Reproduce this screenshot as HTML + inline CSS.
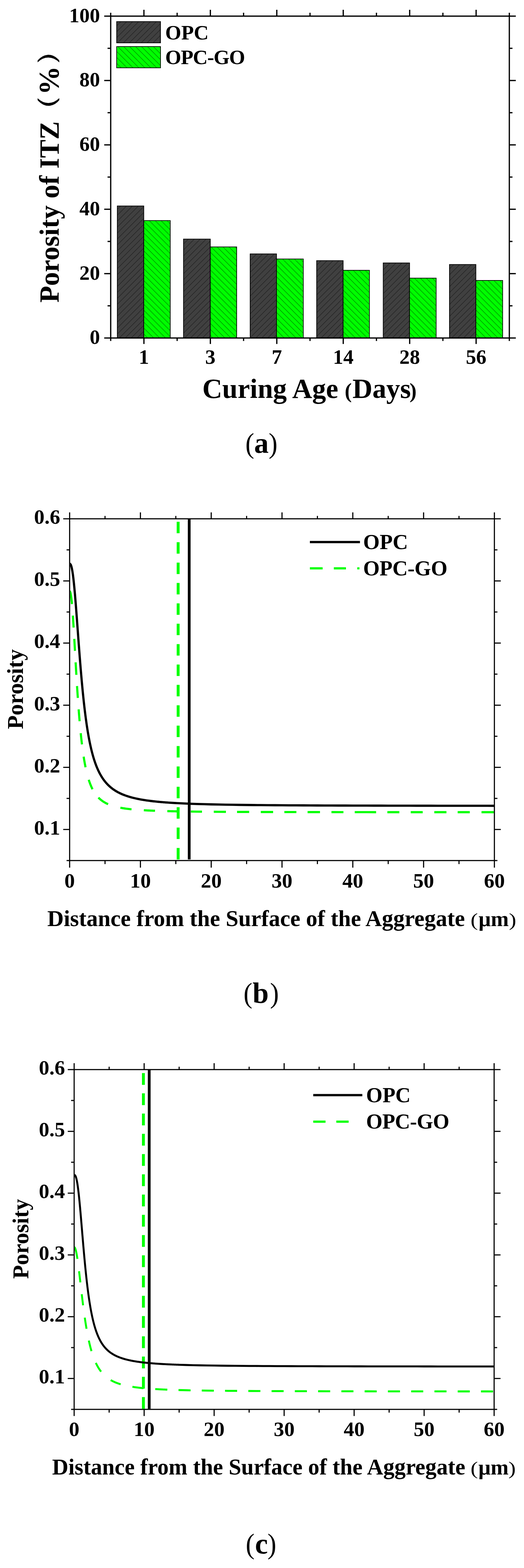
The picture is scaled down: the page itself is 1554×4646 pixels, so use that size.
<!DOCTYPE html>
<html><head><meta charset="utf-8"><title>Porosity of ITZ</title><style>html,body{margin:0;padding:0;background:#fff;}svg{display:block;}text{font-family:"Liberation Serif","Times New Roman",serif;}</style></head><body>
<svg width="1554" height="4646" viewBox="0 0 1554 4646">
<rect width="1554" height="4646" fill="#fff"/>
<defs>
<pattern id="hopc" patternUnits="userSpaceOnUse" width="17.6" height="17.6"><rect width="17.6" height="17.6" fill="#404040"/><path d="M-4.4,4.4 L4.4,-4.4 M0,17.6 L17.6,0 M13.2,22 L22,13.2" stroke="#000" stroke-width="0.95"/></pattern>
<pattern id="hgo" patternUnits="userSpaceOnUse" width="17.6" height="17.6"><rect width="17.6" height="17.6" fill="#00ff00"/><path d="M-4.4,13.2 L4.4,22 M0,0 L17.6,17.6 M13.2,-4.4 L22,4.4" stroke="#000" stroke-width="0.95"/></pattern>
</defs>
<rect x="347.9" y="610.3" width="78.5" height="391.2" fill="url(#hopc)" stroke="#000" stroke-width="2"/>
<rect x="426.4" y="653.6" width="78.5" height="347.9" fill="url(#hgo)" stroke="#000" stroke-width="2"/>
<rect x="544.2" y="708.4" width="79.5" height="293.1" fill="url(#hopc)" stroke="#000" stroke-width="2"/>
<rect x="623.7" y="731.6" width="78.2" height="269.9" fill="url(#hgo)" stroke="#000" stroke-width="2"/>
<rect x="741.9" y="752.3" width="78.1" height="249.2" fill="url(#hopc)" stroke="#000" stroke-width="2"/>
<rect x="820" y="767.4" width="79.5" height="234.1" fill="url(#hgo)" stroke="#000" stroke-width="2"/>
<rect x="939.1" y="772.3" width="78.5" height="229.2" fill="url(#hopc)" stroke="#000" stroke-width="2"/>
<rect x="1017.6" y="800.9" width="78" height="200.6" fill="url(#hgo)" stroke="#000" stroke-width="2"/>
<rect x="1136.5" y="779.1" width="78.1" height="222.4" fill="url(#hopc)" stroke="#000" stroke-width="2"/>
<rect x="1214.6" y="824.1" width="78.9" height="177.4" fill="url(#hgo)" stroke="#000" stroke-width="2"/>
<rect x="1333" y="783.7" width="78.3" height="217.8" fill="url(#hopc)" stroke="#000" stroke-width="2"/>
<rect x="1411.3" y="831" width="79.4" height="170.5" fill="url(#hgo)" stroke="#000" stroke-width="2"/>
<rect x="346" y="64" width="130" height="63" fill="url(#hopc)" stroke="#000" stroke-width="2"/>
<rect x="346" y="138" width="130" height="63" fill="url(#hgo)" stroke="#000" stroke-width="2"/>
<rect x="328.3" y="47.8" width="1182.2" height="953.7" fill="none" stroke="#000" stroke-width="3.7"/>
<line x1="309.1" y1="1001.5" x2="328.3" y2="1001.5" stroke="#000" stroke-width="3.7"/>
<line x1="1510.5" y1="1001.5" x2="1529.7" y2="1001.5" stroke="#000" stroke-width="3.7"/>
<line x1="319" y1="906.13" x2="328.3" y2="906.13" stroke="#000" stroke-width="3.7"/>
<line x1="1510.5" y1="906.13" x2="1519.8" y2="906.13" stroke="#000" stroke-width="3.7"/>
<line x1="309.1" y1="810.76" x2="328.3" y2="810.76" stroke="#000" stroke-width="3.7"/>
<line x1="1510.5" y1="810.76" x2="1529.7" y2="810.76" stroke="#000" stroke-width="3.7"/>
<line x1="319" y1="715.39" x2="328.3" y2="715.39" stroke="#000" stroke-width="3.7"/>
<line x1="1510.5" y1="715.39" x2="1519.8" y2="715.39" stroke="#000" stroke-width="3.7"/>
<line x1="309.1" y1="620.02" x2="328.3" y2="620.02" stroke="#000" stroke-width="3.7"/>
<line x1="1510.5" y1="620.02" x2="1529.7" y2="620.02" stroke="#000" stroke-width="3.7"/>
<line x1="319" y1="524.65" x2="328.3" y2="524.65" stroke="#000" stroke-width="3.7"/>
<line x1="1510.5" y1="524.65" x2="1519.8" y2="524.65" stroke="#000" stroke-width="3.7"/>
<line x1="309.1" y1="429.28" x2="328.3" y2="429.28" stroke="#000" stroke-width="3.7"/>
<line x1="1510.5" y1="429.28" x2="1529.7" y2="429.28" stroke="#000" stroke-width="3.7"/>
<line x1="319" y1="333.91" x2="328.3" y2="333.91" stroke="#000" stroke-width="3.7"/>
<line x1="1510.5" y1="333.91" x2="1519.8" y2="333.91" stroke="#000" stroke-width="3.7"/>
<line x1="309.1" y1="238.54" x2="328.3" y2="238.54" stroke="#000" stroke-width="3.7"/>
<line x1="1510.5" y1="238.54" x2="1529.7" y2="238.54" stroke="#000" stroke-width="3.7"/>
<line x1="319" y1="143.17" x2="328.3" y2="143.17" stroke="#000" stroke-width="3.7"/>
<line x1="1510.5" y1="143.17" x2="1519.8" y2="143.17" stroke="#000" stroke-width="3.7"/>
<line x1="309.1" y1="47.8" x2="328.3" y2="47.8" stroke="#000" stroke-width="3.7"/>
<line x1="1510.5" y1="47.8" x2="1529.7" y2="47.8" stroke="#000" stroke-width="3.7"/>
<line x1="328.3" y1="1001.5" x2="328.3" y2="1010.3" stroke="#000" stroke-width="3.7"/>
<line x1="328.3" y1="37.8" x2="328.3" y2="47.8" stroke="#000" stroke-width="3.7"/>
<line x1="426.82" y1="1001.5" x2="426.82" y2="1019.2" stroke="#000" stroke-width="3.7"/>
<line x1="426.82" y1="29" x2="426.82" y2="47.8" stroke="#000" stroke-width="3.7"/>
<line x1="525.33" y1="1001.5" x2="525.33" y2="1010.3" stroke="#000" stroke-width="3.7"/>
<line x1="525.33" y1="37.8" x2="525.33" y2="47.8" stroke="#000" stroke-width="3.7"/>
<line x1="623.85" y1="1001.5" x2="623.85" y2="1019.2" stroke="#000" stroke-width="3.7"/>
<line x1="623.85" y1="29" x2="623.85" y2="47.8" stroke="#000" stroke-width="3.7"/>
<line x1="722.37" y1="1001.5" x2="722.37" y2="1010.3" stroke="#000" stroke-width="3.7"/>
<line x1="722.37" y1="37.8" x2="722.37" y2="47.8" stroke="#000" stroke-width="3.7"/>
<line x1="820.88" y1="1001.5" x2="820.88" y2="1019.2" stroke="#000" stroke-width="3.7"/>
<line x1="820.88" y1="29" x2="820.88" y2="47.8" stroke="#000" stroke-width="3.7"/>
<line x1="919.4" y1="1001.5" x2="919.4" y2="1010.3" stroke="#000" stroke-width="3.7"/>
<line x1="919.4" y1="37.8" x2="919.4" y2="47.8" stroke="#000" stroke-width="3.7"/>
<line x1="1017.92" y1="1001.5" x2="1017.92" y2="1019.2" stroke="#000" stroke-width="3.7"/>
<line x1="1017.92" y1="29" x2="1017.92" y2="47.8" stroke="#000" stroke-width="3.7"/>
<line x1="1116.43" y1="1001.5" x2="1116.43" y2="1010.3" stroke="#000" stroke-width="3.7"/>
<line x1="1116.43" y1="37.8" x2="1116.43" y2="47.8" stroke="#000" stroke-width="3.7"/>
<line x1="1214.95" y1="1001.5" x2="1214.95" y2="1019.2" stroke="#000" stroke-width="3.7"/>
<line x1="1214.95" y1="29" x2="1214.95" y2="47.8" stroke="#000" stroke-width="3.7"/>
<line x1="1313.47" y1="1001.5" x2="1313.47" y2="1010.3" stroke="#000" stroke-width="3.7"/>
<line x1="1313.47" y1="37.8" x2="1313.47" y2="47.8" stroke="#000" stroke-width="3.7"/>
<line x1="1411.98" y1="1001.5" x2="1411.98" y2="1019.2" stroke="#000" stroke-width="3.7"/>
<line x1="1411.98" y1="29" x2="1411.98" y2="47.8" stroke="#000" stroke-width="3.7"/>
<line x1="1510.5" y1="1001.5" x2="1510.5" y2="1010.3" stroke="#000" stroke-width="3.7"/>
<line x1="1510.5" y1="37.8" x2="1510.5" y2="47.8" stroke="#000" stroke-width="3.7"/>
<text x="296.4" y="1019.3" font-size="61" font-weight="bold" text-anchor="end" font-family="'Liberation Serif','Times New Roman',serif">0</text>
<text x="296.4" y="828.56" font-size="61" font-weight="bold" text-anchor="end" font-family="'Liberation Serif','Times New Roman',serif">20</text>
<text x="296.4" y="637.82" font-size="61" font-weight="bold" text-anchor="end" font-family="'Liberation Serif','Times New Roman',serif">40</text>
<text x="296.4" y="447.08" font-size="61" font-weight="bold" text-anchor="end" font-family="'Liberation Serif','Times New Roman',serif">60</text>
<text x="296.4" y="256.34" font-size="61" font-weight="bold" text-anchor="end" font-family="'Liberation Serif','Times New Roman',serif">80</text>
<text x="296.4" y="65.6" font-size="61" font-weight="bold" text-anchor="end" font-family="'Liberation Serif','Times New Roman',serif">100</text>
<text x="426.82" y="1078" font-size="61" font-weight="bold" text-anchor="middle" font-family="'Liberation Serif','Times New Roman',serif">1</text>
<text x="623.85" y="1078" font-size="61" font-weight="bold" text-anchor="middle" font-family="'Liberation Serif','Times New Roman',serif">3</text>
<text x="820.88" y="1078" font-size="61" font-weight="bold" text-anchor="middle" font-family="'Liberation Serif','Times New Roman',serif">7</text>
<text x="1017.92" y="1078" font-size="61" font-weight="bold" text-anchor="middle" font-family="'Liberation Serif','Times New Roman',serif">14</text>
<text x="1214.95" y="1078" font-size="61" font-weight="bold" text-anchor="middle" font-family="'Liberation Serif','Times New Roman',serif">28</text>
<text x="1411.98" y="1078" font-size="61" font-weight="bold" text-anchor="middle" font-family="'Liberation Serif','Times New Roman',serif">56</text>
<text x="490.1" y="117" font-size="61" font-weight="bold" text-anchor="start" font-family="'Liberation Serif','Times New Roman',serif">OPC</text>
<text x="490.1" y="190" font-size="61" font-weight="bold" text-anchor="start" font-family="'Liberation Serif','Times New Roman',serif" letter-spacing="-1.4">OPC-GO</text>
<text x="599.9" y="1179" font-size="82" font-weight="bold" text-anchor="start" font-family="'Liberation Serif','Times New Roman',serif">Curing Age</text>
<text x="1022.22" y="1179" font-size="63" font-weight="bold" text-anchor="start" font-family="'Liberation Serif','Times New Roman',serif">(</text>
<text x="1045.27" y="1179" font-size="82" font-weight="bold" text-anchor="start" font-family="'Liberation Serif','Times New Roman',serif">Days</text>
<text x="1214.45" y="1179" font-size="63" font-weight="bold" text-anchor="start" font-family="'Liberation Serif','Times New Roman',serif">)</text>
<text transform="translate(173.5,896.7) rotate(-90)" font-size="81.5" font-weight="bold" font-family="'Liberation Serif',serif">Porosity of ITZ</text>
<text transform="translate(162.9,387) rotate(-90) scale(1.51,1)" font-size="75.3" font-weight="300" font-family="'Noto Serif CJK SC',serif">（</text>
<text transform="translate(174.3,280.9) rotate(-90)" font-size="85" font-weight="bold" font-family="'Liberation Serif',serif">%</text>
<text transform="translate(162.9,201.7) rotate(-90) scale(1.51,1)" font-size="75.3" font-weight="300" font-family="'Noto Serif CJK SC',serif">）</text>
<text transform="translate(727.66,1341.5) scale(0.92,1)" font-size="85.5" font-family="'Liberation Serif',serif">(</text>
<text x="753.81" y="1341.5" font-size="86" font-weight="bold" font-family="'Liberation Serif',serif">a</text>
<text transform="translate(796.64,1341.5) scale(0.92,1)" font-size="85.5" font-family="'Liberation Serif',serif">)</text>
<defs><clipPath id="clipb"><rect x="206.5" y="1537.2" width="1259.7" height="1012.6"/></clipPath></defs>
<g clip-path="url(#clipb)">
<line x1="528.3" y1="2546.5" x2="528.3" y2="1537.2" stroke="#00ff00" stroke-width="8.6" stroke-dasharray="34 26.4"/>
<line x1="561.1" y1="2546.5" x2="561.1" y2="1537.2" stroke="#000" stroke-width="8.2"/>
<path d="M206.5,1670.49 L206.92,1670.52 L207.34,1670.61 L207.76,1670.8 L208.18,1671.08 L208.6,1671.48 L209.02,1671.99 L209.44,1672.63 L209.86,1673.4 L210.28,1674.31 L210.7,1675.35 L211.12,1676.54 L211.54,1677.87 L211.96,1679.35 L212.38,1680.99 L212.8,1682.77 L213.22,1684.71 L213.64,1686.8 L214.06,1689.04 L214.48,1691.43 L214.9,1693.98 L215.32,1696.69 L215.74,1699.54 L216.16,1702.54 L216.58,1705.68 L217,1708.98 L217.42,1712.41 L217.84,1715.98 L218.26,1719.69 L218.68,1723.53 L219.1,1727.5 L219.52,1731.6 L219.94,1735.81 L220.36,1740.14 L220.78,1744.59 L221.2,1749.14 L221.62,1753.79 L222.04,1758.55 L222.46,1763.39 L222.88,1768.33 L223.3,1773.35 L223.72,1778.44 L224.14,1783.61 L224.56,1788.85 L224.98,1794.15 L225.4,1799.51 L225.82,1804.92 L226.24,1810.38 L226.66,1815.88 L227.08,1821.43 L227.5,1827 L227.91,1832.6 L228.33,1838.23 L228.75,1843.88 L229.17,1849.54 L229.59,1855.21 L230.01,1860.89 L230.43,1866.58 L230.85,1872.26 L231.27,1877.94 L231.69,1883.61 L232.11,1889.26 L232.53,1894.91 L232.95,1900.53 L233.37,1906.13 L233.79,1911.71 L234.21,1917.27 L234.63,1922.79 L235.05,1928.28 L235.47,1933.74 L235.89,1939.17 L236.31,1944.55 L236.73,1949.89 L237.15,1955.2 L237.57,1960.46 L237.99,1965.67 L238.41,1970.84 L238.83,1975.96 L239.25,1981.03 L239.67,1986.05 L240.09,1991.02 L240.51,1995.94 L240.93,2000.81 L241.35,2005.62 L241.77,2010.38 L242.19,2015.09 L242.61,2019.74 L243.03,2024.34 L243.45,2028.88 L243.87,2033.36 L244.29,2037.79 L244.71,2042.17 L245.13,2046.49 L245.55,2050.75 L245.97,2054.96 L246.39,2059.11 L246.81,2063.2 L247.23,2067.24 L247.65,2071.23 L248.07,2075.16 L248.49,2079.04 L248.91,2082.86 L249.33,2086.63 L249.75,2090.35 L250.17,2094.01 L250.59,2097.62 L251.01,2101.18 L251.43,2104.69 L251.85,2108.15 L252.27,2111.55 L252.69,2114.91 L253.11,2118.22 L253.53,2121.48 L253.95,2124.69 L254.37,2127.85 L254.79,2130.97 L255.21,2134.04 L255.63,2137.06 L256.05,2140.04 L256.47,2142.98 L256.89,2145.87 L257.31,2148.72 L257.73,2151.52 L258.15,2154.28 L258.57,2157.01 L258.99,2159.69 L259.41,2162.33 L259.83,2164.93 L260.25,2167.49 L260.67,2170.01 L261.09,2172.49 L261.51,2174.94 L261.93,2177.35 L262.35,2179.73 L262.77,2182.07 L263.19,2184.37 L263.61,2186.64 L264.03,2188.88 L264.45,2191.08 L264.87,2193.25 L265.29,2195.38 L265.71,2197.49 L266.13,2199.56 L266.55,2201.61 L266.97,2203.62 L267.39,2205.6 L267.81,2207.56 L268.23,2209.48 L268.65,2211.38 L269.07,2213.25 L269.49,2215.09 L269.9,2216.91 L270.32,2218.7 L270.74,2220.46 L271.16,2222.2 L271.58,2223.91 L272,2225.6 L272.42,2227.26 L272.84,2228.9 L273.26,2230.52 L273.68,2232.11 L274.1,2233.69 L274.52,2235.23 L274.94,2236.76 L275.36,2238.27 L275.78,2239.75 L276.2,2241.21 L276.62,2242.66 L277.04,2244.08 L277.46,2245.48 L277.88,2246.87 L278.3,2248.23 L278.72,2249.58 L279.14,2250.91 L279.56,2252.22 L279.98,2253.51 L280.4,2254.78 L280.82,2256.04 L281.24,2257.28 L281.66,2258.5 L282.08,2259.71 L282.5,2260.9 L282.92,2262.08 L283.34,2263.24 L283.76,2264.38 L284.18,2265.51 L284.6,2266.63 L285.02,2267.73 L285.44,2268.81 L285.86,2269.88 L286.28,2270.94 L286.7,2271.98 L287.12,2273.02 L287.54,2274.03 L287.96,2275.04 L288.38,2276.03 L288.8,2277.01 L289.22,2277.98 L289.64,2278.93 L290.06,2279.87 L290.48,2280.8 L290.9,2281.72 L291.32,2282.63 L291.74,2283.53 L292.16,2284.41 L292.58,2285.29 L293,2286.15 L293.42,2287.01 L293.84,2287.85 L294.26,2288.68 L294.68,2289.51 L295.1,2290.32 L295.52,2291.12 L295.94,2291.92 L296.36,2292.7 L296.78,2293.48 L297.2,2294.24 L297.62,2295 L298.04,2295.75 L298.46,2296.49 L298.88,2297.22 L299.3,2297.94 L299.72,2298.65 L300.14,2299.36 L300.56,2300.06 L300.98,2300.75 L301.4,2301.43 L301.82,2302.1 L302.24,2302.77 L302.66,2303.43 L303.08,2304.08 L303.5,2304.72 L303.92,2305.36 L304.34,2305.99 L304.76,2306.61 L305.18,2307.23 L305.6,2307.84 L306.02,2308.44 L306.44,2309.04 L306.86,2309.63 L307.28,2310.21 L307.7,2310.79 L308.12,2311.36 L308.54,2311.92 L308.96,2312.48 L309.38,2313.03 L309.8,2313.58 L310.22,2314.12 L310.64,2314.65 L311.06,2315.18 L311.48,2315.71 L311.89,2316.23 L312.31,2316.74 L312.73,2317.25 L313.15,2317.75 L313.57,2318.25 L313.99,2318.74 L314.41,2319.22 L314.83,2319.71 L315.25,2320.18 L315.67,2320.66 L316.09,2321.12 L316.51,2321.59 L316.93,2322.04 L317.35,2322.5 L317.77,2322.95 L318.19,2323.39 L318.61,2323.83 L319.03,2324.27 L319.45,2324.7 L319.87,2325.13 L320.29,2325.55 L320.71,2325.97 L321.13,2326.38 L321.55,2326.79 L321.97,2327.2 L322.39,2327.6 L322.81,2328 L323.23,2328.4 L323.65,2328.79 L324.07,2329.18 L324.49,2329.56 L324.91,2329.94 L325.33,2330.32 L325.75,2330.69 L326.17,2331.06 L326.59,2331.43 L327.01,2331.79 L327.43,2332.15 L327.85,2332.5 L328.27,2332.86 L328.69,2333.21 L329.11,2333.55 L329.53,2333.9 L329.95,2334.24 L330.37,2334.57 L330.79,2334.91 L331.21,2335.24 L331.63,2335.56 L332.05,2335.89 L332.47,2336.21 L334.57,2337.78 L336.67,2339.28 L338.77,2340.71 L340.87,2342.09 L342.97,2343.4 L345.07,2344.67 L347.17,2345.88 L349.27,2347.04 L351.37,2348.16 L353.46,2349.23 L355.56,2350.26 L357.66,2351.26 L359.76,2352.21 L361.86,2353.13 L363.96,2354.02 L366.06,2354.87 L368.16,2355.69 L370.26,2356.49 L372.36,2357.25 L374.46,2357.99 L376.56,2358.7 L378.66,2359.39 L380.76,2360.06 L382.86,2360.7 L384.96,2361.33 L387.06,2361.93 L389.16,2362.51 L391.26,2363.08 L393.36,2363.62 L395.45,2364.15 L397.55,2364.66 L399.65,2365.16 L401.75,2365.64 L403.85,2366.11 L405.95,2366.56 L408.05,2367 L410.15,2367.43 L412.25,2367.85 L414.35,2368.25 L416.45,2368.64 L418.55,2369.02 L420.65,2369.39 L422.75,2369.75 L424.85,2370.1 L426.95,2370.44 L429.05,2370.77 L431.15,2371.09 L433.25,2371.4 L435.35,2371.71 L437.44,2372 L439.54,2372.29 L441.64,2372.57 L443.74,2372.85 L445.84,2373.11 L447.94,2373.37 L450.04,2373.63 L452.14,2373.87 L454.24,2374.12 L456.34,2374.35 L458.44,2374.58 L460.54,2374.81 L462.64,2375.02 L464.74,2375.24 L466.84,2375.45 L468.94,2375.65 L471.04,2375.85 L473.14,2376.04 L475.24,2376.23 L477.34,2376.42 L479.43,2376.6 L481.53,2376.78 L483.63,2376.95 L485.73,2377.12 L487.83,2377.29 L489.93,2377.45 L492.03,2377.61 L494.13,2377.76 L496.23,2377.91 L498.33,2378.06 L500.43,2378.21 L502.53,2378.35 L504.63,2378.49 L506.73,2378.63 L508.83,2378.76 L510.93,2378.89 L513.03,2379.02 L515.13,2379.14 L517.23,2379.27 L519.33,2379.39 L521.42,2379.51 L542.42,2380.57 L563.41,2381.45 L584.41,2382.19 L605.4,2382.81 L626.4,2383.34 L647.39,2383.8 L668.39,2384.19 L689.38,2384.54 L710.38,2384.84 L731.38,2385.1 L752.37,2385.34 L773.37,2385.54 L794.36,2385.73 L815.36,2385.89 L836.35,2386.04 L857.35,2386.18 L878.34,2386.3 L899.34,2386.41 L920.33,2386.51 L941.33,2386.6 L962.32,2386.69 L983.32,2386.76 L1004.31,2386.83 L1025.31,2386.9 L1046.3,2386.96 L1067.3,2387.02 L1088.29,2387.07 L1109.29,2387.11 L1130.28,2387.16 L1151.28,2387.2 L1172.27,2387.24 L1193.27,2387.28 L1214.26,2387.31 L1235.26,2387.34 L1256.25,2387.37 L1277.25,2387.4 L1298.24,2387.43 L1319.24,2387.45 L1340.23,2387.48 L1361.23,2387.5 L1382.22,2387.52 L1403.22,2387.54 L1424.21,2387.56 L1445.21,2387.57 L1466.2,2387.59" fill="none" stroke="#000" stroke-width="6.6" stroke-linejoin="round"/>
<path d="M206.5,1752.22 L206.92,1752.32 L207.34,1752.64 L207.76,1753.23 L208.18,1754.11 L208.6,1755.27 L209.02,1756.73 L209.44,1758.49 L209.86,1760.57 L210.28,1762.95 L210.7,1765.64 L211.12,1768.63 L211.54,1771.92 L211.96,1775.51 L212.38,1779.39 L212.8,1783.55 L213.22,1787.98 L213.39,1789.9 M216.03,1824 L216.16,1825.79 L216.58,1832.02 L217,1838.41 L217.42,1844.95 L217.84,1851.64 L218.26,1858.45 L218.32,1859.5 M220.3,1893 L220.36,1893.94 L220.78,1901.23 L221.2,1908.57 L221.62,1915.93 L222.04,1923.31 L222.33,1928.5 M224.27,1962.5 L224.56,1967.39 L224.98,1974.62 L225.4,1981.81 L225.82,1988.94 L226.24,1996.01 L226.45,1999.6 M228.49,2032.7 L228.75,2036.86 L229.17,2043.38 L229.59,2049.8 L230.01,2056.13 L230.43,2062.37 L230.82,2068 M233.25,2101.7 L233.37,2103.28 L233.79,2108.73 L234.21,2114.08 L234.63,2119.33 L235.05,2124.48 L235.47,2129.53 L235.89,2134.49 L236.11,2137 M239.4,2172.3 L239.67,2174.94 L240.09,2179 L240.51,2182.97 L240.93,2186.86 L241.35,2190.66 L241.77,2194.39 L242.19,2198.05 L242.61,2201.62 L243.03,2205.13 L243.1,2205.7 M248.07,2241.9 L248.49,2244.54 L248.91,2247.15 L249.33,2249.71 L249.75,2252.21 L250.17,2254.66 L250.59,2257.06 L251.01,2259.42 L251.43,2261.72 L251.85,2263.98 L252.27,2266.19 L252.69,2268.35 L253.11,2270.48 L253.53,2272.56 L253.7,2273.4 M263.19,2310.6 L263.61,2311.88 L264.03,2313.15 L264.45,2314.41 L264.87,2315.64 L265.29,2316.84 L265.71,2318.03 L266.13,2319.2 L266.55,2320.34 L266.97,2321.46 L267.39,2322.57 L267.81,2323.65 L268.23,2324.71 L268.65,2325.76 L269.07,2326.79 L269.49,2327.79 L269.9,2328.79 L270.32,2329.76 L270.74,2330.72 L271.16,2331.66 L271.58,2332.58 L272,2333.49 L272.42,2334.38 L272.84,2335.26 L273.26,2336.13 L273.68,2336.98 L274.1,2337.81 L274.41,2338.4 M291.9,2363.32 L292.16,2363.59 L292.58,2364.01 L293,2364.43 L293.42,2364.84 L293.84,2365.25 L294.26,2365.65 L294.68,2366.04 L295.1,2366.43 L295.52,2366.82 L295.94,2367.2 L296.36,2367.57 L296.78,2367.94 L297.2,2368.31 L297.62,2368.66 L298.04,2369.02 L298.46,2369.37 L298.88,2369.71 L299.3,2370.06 L299.72,2370.39 L300.14,2370.72 L300.56,2371.05 L300.98,2371.37 L301.4,2371.69 L301.82,2372.01 L302.24,2372.32 L302.66,2372.63 L303.08,2372.93 L303.5,2373.23 L303.92,2373.52 L304.34,2373.82 L304.76,2374.1 L305.18,2374.39 L305.6,2374.67 L306.02,2374.95 L306.44,2375.22 L306.86,2375.49 L307.28,2375.76 L307.7,2376.02 L308.12,2376.28 L308.54,2376.54 L308.96,2376.79 L309.38,2377.05 L309.8,2377.29 L310.22,2377.54 L310.64,2377.78 L311.06,2378.02 L311.48,2378.26 L311.89,2378.49 L312.31,2378.72 L312.73,2378.95 L313.15,2379.18 L313.57,2379.4 L313.99,2379.62 L314.41,2379.84 L314.83,2380.05 L315.25,2380.27 L315.67,2380.48 L316.09,2380.69 L316.51,2380.89 L316.93,2381.1 L317.35,2381.3 L317.77,2381.5 L318.19,2381.69 L318.61,2381.89 L319.03,2382.08 L319.45,2382.27 L319.87,2382.46 L320.29,2382.64 L320.6,2382.78 M357,2393.33 L357.66,2393.46 L359.76,2393.84 L361.86,2394.21 L363.96,2394.56 L366.06,2394.9 L368.16,2395.22 L370.26,2395.53 L372.36,2395.83 L374.46,2396.12 L376.56,2396.39 L378.66,2396.66 L380.76,2396.91 L382.86,2397.16 L384.96,2397.4 L387.06,2397.63 L389.16,2397.85 L390,2397.93 M426.6,2400.76 L426.95,2400.78 L429.05,2400.9 L431.15,2401.02 L433.25,2401.13 L435.35,2401.24 L437.44,2401.34 L439.54,2401.45 L441.64,2401.55 L443.74,2401.65 L445.84,2401.74 L447.94,2401.83 L450.04,2401.92 L452.14,2402.01 L454.24,2402.09 L456.34,2402.18 L458.44,2402.26 L459.7,2402.31 M496.2,2403.41 L496.23,2403.41 L498.33,2403.46 L500.43,2403.51 L502.53,2403.56 L504.63,2403.61 L506.73,2403.66 L508.83,2403.7 L510.93,2403.75 L513.03,2403.79 L515.13,2403.83 L517.23,2403.87 L519.33,2403.91 L521.42,2403.95 L527.6,2404.06 M566,2404.64 L584.41,2404.85 L599,2404.99 M634,2405.28 L647.39,2405.38 L668.39,2405.5 L670,2405.51 M703,2405.68 L710.38,2405.71 L731.38,2405.79 L739,2405.82 M773.4,2405.93 L794.36,2405.99 L810,2406.03 M843.3,2406.11 L857.35,2406.13 L878.34,2406.17 L879,2406.17 M912.2,2406.23 L920.33,2406.24 L941.33,2406.27 L949,2406.28 M983,2406.32 L983.32,2406.32 L1004.31,2406.34 L1018.5,2406.35 M1052,2406.38 L1067.3,2406.4 L1088.29,2406.41 L1109.29,2406.43 L1115.4,2406.43 M1148.8,2406.45 L1151.28,2406.45 L1172.27,2406.47 L1184.3,2406.47 M1218.1,2406.49 L1235.26,2406.5 L1253.6,2406.5 M1288,2406.52 L1298.24,2406.52 L1319.24,2406.53 L1324,2406.53 M1357.3,2406.54 L1361.23,2406.54 L1382.22,2406.55 L1393.2,2406.55 M1428,2406.56 L1445.21,2406.57 L1464.5,2406.57" fill="none" stroke="#00ff00" stroke-width="6.4" stroke-linejoin="round"/>
</g>
<rect x="206.5" y="1537.2" width="1259.7" height="1012.6" fill="none" stroke="#000" stroke-width="3.3"/>
<line x1="206.5" y1="2549.8" x2="206.5" y2="2570.8" stroke="#000" stroke-width="3.3"/>
<line x1="206.5" y1="1518.2" x2="206.5" y2="1537.2" stroke="#000" stroke-width="3.3"/>
<line x1="311.48" y1="2549.8" x2="311.48" y2="2560.3" stroke="#000" stroke-width="3.3"/>
<line x1="311.48" y1="1528.7" x2="311.48" y2="1537.2" stroke="#000" stroke-width="3.3"/>
<line x1="416.45" y1="2549.8" x2="416.45" y2="2570.8" stroke="#000" stroke-width="3.3"/>
<line x1="416.45" y1="1518.2" x2="416.45" y2="1537.2" stroke="#000" stroke-width="3.3"/>
<line x1="521.42" y1="2549.8" x2="521.42" y2="2560.3" stroke="#000" stroke-width="3.3"/>
<line x1="521.42" y1="1528.7" x2="521.42" y2="1537.2" stroke="#000" stroke-width="3.3"/>
<line x1="626.4" y1="2549.8" x2="626.4" y2="2570.8" stroke="#000" stroke-width="3.3"/>
<line x1="626.4" y1="1518.2" x2="626.4" y2="1537.2" stroke="#000" stroke-width="3.3"/>
<line x1="731.38" y1="2549.8" x2="731.38" y2="2560.3" stroke="#000" stroke-width="3.3"/>
<line x1="731.38" y1="1528.7" x2="731.38" y2="1537.2" stroke="#000" stroke-width="3.3"/>
<line x1="836.35" y1="2549.8" x2="836.35" y2="2570.8" stroke="#000" stroke-width="3.3"/>
<line x1="836.35" y1="1518.2" x2="836.35" y2="1537.2" stroke="#000" stroke-width="3.3"/>
<line x1="941.33" y1="2549.8" x2="941.33" y2="2560.3" stroke="#000" stroke-width="3.3"/>
<line x1="941.33" y1="1528.7" x2="941.33" y2="1537.2" stroke="#000" stroke-width="3.3"/>
<line x1="1046.3" y1="2549.8" x2="1046.3" y2="2570.8" stroke="#000" stroke-width="3.3"/>
<line x1="1046.3" y1="1518.2" x2="1046.3" y2="1537.2" stroke="#000" stroke-width="3.3"/>
<line x1="1151.28" y1="2549.8" x2="1151.28" y2="2560.3" stroke="#000" stroke-width="3.3"/>
<line x1="1151.28" y1="1528.7" x2="1151.28" y2="1537.2" stroke="#000" stroke-width="3.3"/>
<line x1="1256.25" y1="2549.8" x2="1256.25" y2="2570.8" stroke="#000" stroke-width="3.3"/>
<line x1="1256.25" y1="1518.2" x2="1256.25" y2="1537.2" stroke="#000" stroke-width="3.3"/>
<line x1="1361.23" y1="2549.8" x2="1361.23" y2="2560.3" stroke="#000" stroke-width="3.3"/>
<line x1="1361.23" y1="1528.7" x2="1361.23" y2="1537.2" stroke="#000" stroke-width="3.3"/>
<line x1="1466.2" y1="2549.8" x2="1466.2" y2="2570.8" stroke="#000" stroke-width="3.3"/>
<line x1="1466.2" y1="1518.2" x2="1466.2" y2="1537.2" stroke="#000" stroke-width="3.3"/>
<line x1="197.5" y1="2549.8" x2="206.5" y2="2549.8" stroke="#000" stroke-width="3.3"/>
<line x1="1466.2" y1="2549.8" x2="1475.2" y2="2549.8" stroke="#000" stroke-width="3.3"/>
<line x1="187.5" y1="2457.75" x2="206.5" y2="2457.75" stroke="#000" stroke-width="3.3"/>
<line x1="1466.2" y1="2457.75" x2="1485.2" y2="2457.75" stroke="#000" stroke-width="3.3"/>
<line x1="197.5" y1="2365.69" x2="206.5" y2="2365.69" stroke="#000" stroke-width="3.3"/>
<line x1="1466.2" y1="2365.69" x2="1475.2" y2="2365.69" stroke="#000" stroke-width="3.3"/>
<line x1="187.5" y1="2273.64" x2="206.5" y2="2273.64" stroke="#000" stroke-width="3.3"/>
<line x1="1466.2" y1="2273.64" x2="1485.2" y2="2273.64" stroke="#000" stroke-width="3.3"/>
<line x1="197.5" y1="2181.58" x2="206.5" y2="2181.58" stroke="#000" stroke-width="3.3"/>
<line x1="1466.2" y1="2181.58" x2="1475.2" y2="2181.58" stroke="#000" stroke-width="3.3"/>
<line x1="187.5" y1="2089.53" x2="206.5" y2="2089.53" stroke="#000" stroke-width="3.3"/>
<line x1="1466.2" y1="2089.53" x2="1485.2" y2="2089.53" stroke="#000" stroke-width="3.3"/>
<line x1="197.5" y1="1997.47" x2="206.5" y2="1997.47" stroke="#000" stroke-width="3.3"/>
<line x1="1466.2" y1="1997.47" x2="1475.2" y2="1997.47" stroke="#000" stroke-width="3.3"/>
<line x1="187.5" y1="1905.42" x2="206.5" y2="1905.42" stroke="#000" stroke-width="3.3"/>
<line x1="1466.2" y1="1905.42" x2="1485.2" y2="1905.42" stroke="#000" stroke-width="3.3"/>
<line x1="197.5" y1="1813.36" x2="206.5" y2="1813.36" stroke="#000" stroke-width="3.3"/>
<line x1="1466.2" y1="1813.36" x2="1475.2" y2="1813.36" stroke="#000" stroke-width="3.3"/>
<line x1="187.5" y1="1721.31" x2="206.5" y2="1721.31" stroke="#000" stroke-width="3.3"/>
<line x1="1466.2" y1="1721.31" x2="1485.2" y2="1721.31" stroke="#000" stroke-width="3.3"/>
<line x1="197.5" y1="1629.25" x2="206.5" y2="1629.25" stroke="#000" stroke-width="3.3"/>
<line x1="1466.2" y1="1629.25" x2="1475.2" y2="1629.25" stroke="#000" stroke-width="3.3"/>
<line x1="187.5" y1="1537.2" x2="206.5" y2="1537.2" stroke="#000" stroke-width="3.3"/>
<line x1="1466.2" y1="1537.2" x2="1485.2" y2="1537.2" stroke="#000" stroke-width="3.3"/>
<text x="178.5" y="2472.75" font-size="62" font-weight="bold" text-anchor="end" font-family="'Liberation Serif','Times New Roman',serif">0.1</text>
<text x="178.5" y="2288.64" font-size="62" font-weight="bold" text-anchor="end" font-family="'Liberation Serif','Times New Roman',serif">0.2</text>
<text x="178.5" y="2104.53" font-size="62" font-weight="bold" text-anchor="end" font-family="'Liberation Serif','Times New Roman',serif">0.3</text>
<text x="178.5" y="1920.42" font-size="62" font-weight="bold" text-anchor="end" font-family="'Liberation Serif','Times New Roman',serif">0.4</text>
<text x="178.5" y="1736.31" font-size="62" font-weight="bold" text-anchor="end" font-family="'Liberation Serif','Times New Roman',serif">0.5</text>
<text x="178.5" y="1552.2" font-size="62" font-weight="bold" text-anchor="end" font-family="'Liberation Serif','Times New Roman',serif">0.6</text>
<text x="206.5" y="2630.2" font-size="62" font-weight="bold" text-anchor="middle" font-family="'Liberation Serif','Times New Roman',serif">0</text>
<text x="416.45" y="2630.2" font-size="62" font-weight="bold" text-anchor="middle" font-family="'Liberation Serif','Times New Roman',serif">10</text>
<text x="626.4" y="2630.2" font-size="62" font-weight="bold" text-anchor="middle" font-family="'Liberation Serif','Times New Roman',serif">20</text>
<text x="836.35" y="2630.2" font-size="62" font-weight="bold" text-anchor="middle" font-family="'Liberation Serif','Times New Roman',serif">30</text>
<text x="1046.3" y="2630.2" font-size="62" font-weight="bold" text-anchor="middle" font-family="'Liberation Serif','Times New Roman',serif">40</text>
<text x="1256.25" y="2630.2" font-size="62" font-weight="bold" text-anchor="middle" font-family="'Liberation Serif','Times New Roman',serif">50</text>
<text x="1466.2" y="2630.2" font-size="62" font-weight="bold" text-anchor="middle" font-family="'Liberation Serif','Times New Roman',serif">60</text>
<line x1="919" y1="1606.2" x2="1067.5" y2="1606.2" stroke="#000" stroke-width="6.8"/>
<line x1="919" y1="1684" x2="956.8" y2="1684" stroke="#00ff00" stroke-width="6.4"/>
<line x1="990" y1="1684" x2="1026" y2="1684" stroke="#00ff00" stroke-width="6.4"/>
<line x1="1059.5" y1="1684" x2="1066" y2="1684" stroke="#00ff00" stroke-width="6.4"/>
<text x="1077.01" y="1627.3" font-size="63" font-weight="bold" text-anchor="start" font-family="'Liberation Serif','Times New Roman',serif">OPC</text>
<text x="1077.01" y="1704.7" font-size="63" font-weight="bold" text-anchor="start" font-family="'Liberation Serif','Times New Roman',serif" letter-spacing="-0.4">OPC-GO</text>
<text x="140.22" y="2744.4" font-size="67.5" font-weight="bold" text-anchor="start" font-family="'Liberation Serif','Times New Roman',serif">Distance from the Surface of the Aggregate</text>
<text transform="translate(1395.42,2744.4) scale(1.2,1)" font-size="54.5" font-family="'Liberation Serif',serif">(</text>
<text x="1419.3" y="2744.4" font-size="64" font-weight="bold" text-anchor="start" font-family="'Liberation Serif','Times New Roman',serif">μm</text>
<text transform="translate(1509.37,2744.4) scale(1.2,1)" font-size="54.5" font-family="'Liberation Serif',serif">)</text>
<text transform="translate(68.3,2160.57) rotate(-90)" font-size="67" font-weight="bold" font-family="'Liberation Serif',serif">Porosity</text>
<text transform="translate(722.16,2971) scale(0.92,1)" font-size="85.5" font-family="'Liberation Serif',serif">(</text>
<text x="748.92" y="2971" font-size="86" font-weight="bold" font-family="'Liberation Serif',serif">b</text>
<text transform="translate(800.64,2971) scale(0.92,1)" font-size="85.5" font-family="'Liberation Serif',serif">)</text>
<defs><clipPath id="clipc"><rect x="219.9" y="3169.2" width="1245.5" height="1006.8"/></clipPath></defs>
<g clip-path="url(#clipc)">
<line x1="425.3" y1="4174.5" x2="425.3" y2="3169.2" stroke="#00ff00" stroke-width="8.6" stroke-dasharray="35 25"/>
<line x1="442.5" y1="4174.5" x2="442.5" y2="3169.2" stroke="#000" stroke-width="8.2"/>
<path d="M219.9,3481.27 L220.32,3481.29 L220.73,3481.35 L221.15,3481.47 L221.56,3481.67 L221.98,3481.95 L222.39,3482.33 L222.81,3482.8 L223.22,3483.38 L223.64,3484.07 L224.05,3484.87 L224.47,3485.8 L224.88,3486.84 L225.3,3488.02 L225.71,3489.32 L226.13,3490.75 L226.54,3492.31 L226.96,3494.01 L227.37,3495.85 L227.79,3497.82 L228.2,3499.93 L228.62,3502.17 L229.03,3504.55 L229.45,3507.06 L229.86,3509.71 L230.28,3512.49 L230.69,3515.4 L231.11,3518.43 L231.52,3521.59 L231.94,3524.87 L232.36,3528.28 L232.77,3531.79 L233.19,3535.42 L233.6,3539.16 L234.02,3543 L234.43,3546.94 L234.85,3550.98 L235.26,3555.11 L235.68,3559.33 L236.09,3563.63 L236.51,3568 L236.92,3572.45 L237.34,3576.97 L237.75,3581.54 L238.17,3586.18 L238.58,3590.87 L239,3595.6 L239.41,3600.38 L239.83,3605.2 L240.24,3610.05 L240.66,3614.93 L241.07,3619.84 L241.49,3624.76 L241.9,3629.7 L242.32,3634.65 L242.73,3639.61 L243.15,3644.57 L243.56,3649.53 L243.98,3654.48 L244.39,3659.43 L244.81,3664.36 L245.23,3669.28 L245.64,3674.18 L246.06,3679.06 L246.47,3683.92 L246.89,3688.75 L247.3,3693.55 L247.72,3698.32 L248.13,3703.05 L248.55,3707.75 L248.96,3712.41 L249.38,3717.03 L249.79,3721.61 L250.21,3726.15 L250.62,3730.64 L251.04,3735.09 L251.45,3739.48 L251.87,3743.84 L252.28,3748.14 L252.7,3752.39 L253.11,3756.59 L253.53,3760.74 L253.94,3764.84 L254.36,3768.88 L254.77,3772.88 L255.19,3776.82 L255.6,3780.7 L256.02,3784.54 L256.43,3788.32 L256.85,3792.04 L257.26,3795.72 L257.68,3799.34 L258.1,3802.9 L258.51,3806.41 L258.93,3809.87 L259.34,3813.28 L259.76,3816.64 L260.17,3819.94 L260.59,3823.19 L261,3826.39 L261.42,3829.54 L261.83,3832.64 L262.25,3835.69 L262.66,3838.69 L263.08,3841.64 L263.49,3844.54 L263.91,3847.4 L264.32,3850.21 L264.74,3852.97 L265.15,3855.69 L265.57,3858.36 L265.98,3860.98 L266.4,3863.57 L266.81,3866.1 L267.23,3868.6 L267.64,3871.06 L268.06,3873.47 L268.47,3875.84 L268.89,3878.17 L269.3,3880.47 L269.72,3882.72 L270.14,3884.93 L270.55,3887.11 L270.97,3889.25 L271.38,3891.36 L271.8,3893.43 L272.21,3895.46 L272.63,3897.46 L273.04,3899.42 L273.46,3901.35 L273.87,3903.25 L274.29,3905.12 L274.7,3906.95 L275.12,3908.76 L275.53,3910.53 L275.95,3912.28 L276.36,3913.99 L276.78,3915.67 L277.19,3917.33 L277.61,3918.96 L278.02,3920.56 L278.44,3922.14 L278.85,3923.69 L279.27,3925.21 L279.68,3926.71 L280.1,3928.18 L280.51,3929.63 L280.93,3931.05 L281.34,3932.46 L281.76,3933.83 L282.18,3935.19 L282.59,3936.52 L283.01,3937.83 L283.42,3939.12 L283.84,3940.39 L284.25,3941.64 L284.67,3942.87 L285.08,3944.08 L285.5,3945.27 L285.91,3946.44 L286.33,3947.59 L286.74,3948.73 L287.16,3949.84 L287.57,3950.94 L287.99,3952.02 L288.4,3953.09 L288.82,3954.13 L289.23,3955.16 L289.65,3956.18 L290.06,3957.18 L290.48,3958.16 L290.89,3959.13 L291.31,3960.08 L291.72,3961.02 L292.14,3961.95 L292.55,3962.86 L292.97,3963.75 L293.38,3964.64 L293.8,3965.51 L294.21,3966.37 L294.63,3967.21 L295.05,3968.04 L295.46,3968.86 L295.88,3969.67 L296.29,3970.46 L296.71,3971.25 L297.12,3972.02 L297.54,3972.78 L297.95,3973.53 L298.37,3974.27 L298.78,3975 L299.2,3975.72 L299.61,3976.43 L300.03,3977.12 L300.44,3977.81 L300.86,3978.49 L301.27,3979.16 L301.69,3979.82 L302.1,3980.47 L302.52,3981.11 L302.93,3981.74 L303.35,3982.37 L303.76,3982.98 L304.18,3983.59 L304.59,3984.19 L305.01,3984.78 L305.42,3985.36 L305.84,3985.93 L306.25,3986.5 L306.67,3987.06 L307.09,3987.61 L307.5,3988.15 L307.92,3988.69 L308.33,3989.22 L308.75,3989.74 L309.16,3990.26 L309.58,3990.77 L309.99,3991.27 L310.41,3991.77 L310.82,3992.26 L311.24,3992.74 L311.65,3993.22 L312.07,3993.69 L312.48,3994.16 L312.9,3994.62 L313.31,3995.07 L313.73,3995.52 L314.14,3995.96 L314.56,3996.4 L314.97,3996.83 L315.39,3997.26 L315.8,3997.68 L316.22,3998.09 L316.63,3998.5 L317.05,3998.91 L317.46,3999.31 L317.88,3999.71 L318.29,4000.1 L318.71,4000.49 L319.12,4000.87 L319.54,4001.24 L319.96,4001.62 L320.37,4001.99 L320.79,4002.35 L321.2,4002.71 L321.62,4003.07 L322.03,4003.42 L322.45,4003.77 L322.86,4004.11 L323.28,4004.45 L323.69,4004.79 L324.11,4005.12 L324.52,4005.45 L324.94,4005.77 L325.35,4006.09 L325.77,4006.41 L326.18,4006.72 L326.6,4007.03 L327.01,4007.34 L327.43,4007.64 L327.84,4007.94 L328.26,4008.24 L328.67,4008.53 L329.09,4008.82 L329.5,4009.11 L329.92,4009.39 L330.33,4009.67 L330.75,4009.95 L331.16,4010.23 L331.58,4010.5 L332,4010.77 L332.41,4011.04 L332.83,4011.3 L333.24,4011.56 L333.66,4011.82 L334.07,4012.07 L334.49,4012.33 L334.9,4012.58 L335.32,4012.82 L335.73,4013.07 L336.15,4013.31 L336.56,4013.55 L336.98,4013.79 L337.39,4014.02 L337.81,4014.26 L338.22,4014.49 L338.64,4014.71 L339.05,4014.94 L339.47,4015.16 L339.88,4015.39 L340.3,4015.6 L340.71,4015.82 L341.13,4016.04 L341.54,4016.25 L341.96,4016.46 L342.37,4016.67 L342.79,4016.88 L343.2,4017.08 L343.62,4017.28 L344.03,4017.48 L344.45,4017.68 L346.53,4018.65 L348.6,4019.57 L350.68,4020.45 L352.75,4021.29 L354.83,4022.1 L356.9,4022.87 L358.98,4023.6 L361.06,4024.31 L363.13,4024.99 L365.21,4025.64 L367.28,4026.26 L369.36,4026.86 L371.44,4027.43 L373.51,4027.99 L375.59,4028.52 L377.66,4029.03 L379.74,4029.53 L381.81,4030 L383.89,4030.46 L385.97,4030.91 L388.04,4031.33 L390.12,4031.75 L392.19,4032.15 L394.27,4032.53 L396.35,4032.9 L398.42,4033.26 L400.5,4033.61 L402.57,4033.95 L404.65,4034.28 L406.72,4034.59 L408.8,4034.9 L410.88,4035.2 L412.95,4035.48 L415.03,4035.76 L417.1,4036.03 L419.18,4036.3 L421.26,4036.55 L423.33,4036.8 L425.41,4037.04 L427.48,4037.27 L429.56,4037.5 L431.63,4037.72 L433.71,4037.94 L435.79,4038.15 L437.86,4038.35 L439.94,4038.55 L442.01,4038.74 L444.09,4038.93 L446.17,4039.11 L448.24,4039.29 L450.32,4039.46 L452.39,4039.63 L454.47,4039.8 L456.54,4039.96 L458.62,4040.12 L460.7,4040.27 L462.77,4040.42 L464.85,4040.56 L466.92,4040.7 L469,4040.84 L471.08,4040.98 L473.15,4041.11 L475.23,4041.24 L477.3,4041.37 L479.38,4041.49 L481.45,4041.61 L483.53,4041.73 L485.61,4041.84 L487.68,4041.95 L489.76,4042.06 L491.83,4042.17 L493.91,4042.28 L495.99,4042.38 L498.06,4042.48 L500.14,4042.58 L502.21,4042.68 L504.29,4042.77 L506.36,4042.86 L508.44,4042.95 L510.52,4043.04 L512.59,4043.13 L514.67,4043.21 L516.74,4043.3 L518.82,4043.38 L520.9,4043.46 L522.97,4043.54 L525.05,4043.61 L527.12,4043.69 L529.2,4043.76 L531.27,4043.83 L552.03,4044.49 L572.79,4045.03 L593.55,4045.49 L614.31,4045.87 L635.07,4046.2 L655.83,4046.49 L676.58,4046.73 L697.34,4046.95 L718.1,4047.14 L738.86,4047.3 L759.62,4047.45 L780.38,4047.58 L801.13,4047.7 L821.89,4047.8 L842.65,4047.9 L863.41,4047.98 L884.17,4048.06 L904.92,4048.13 L925.68,4048.19 L946.44,4048.25 L967.2,4048.3 L987.96,4048.35 L1008.72,4048.4 L1029.47,4048.44 L1050.23,4048.48 L1070.99,4048.51 L1091.75,4048.55 L1112.51,4048.58 L1133.27,4048.61 L1154.03,4048.63 L1174.78,4048.66 L1195.54,4048.68 L1216.3,4048.7 L1237.06,4048.72 L1257.82,4048.74 L1278.58,4048.76 L1299.33,4048.78 L1320.09,4048.79 L1340.85,4048.81 L1361.61,4048.82 L1382.37,4048.83 L1403.12,4048.85 L1423.88,4048.86 L1444.64,4048.87 L1465.4,4048.88" fill="none" stroke="#000" stroke-width="5.8" stroke-linejoin="round"/>
<path d="M219.9,3695.35 L220.32,3695.42 L220.73,3695.61 L221.15,3695.95 L221.56,3696.41 L221.98,3697.01 L222.39,3697.75 L222.81,3698.62 L223.22,3699.62 L223.64,3700.75 L224.05,3702.02 L224.47,3703.41 L224.88,3704.92 L225.3,3706.56 L225.71,3708.31 L226.13,3710.19 L226.54,3712.18 L226.96,3714.27 L227.37,3716.48 L227.79,3718.79 L228.2,3721.19 L228.62,3723.7 L229.03,3726.29 L229.45,3728.97 L229.63,3730.2 M234.46,3766.7 L234.85,3769.93 L235.26,3773.4 L235.68,3776.9 L236.09,3780.43 L236.51,3783.97 L236.92,3787.53 L237.34,3791.11 L237.75,3794.69 L238.17,3798.28 L238.34,3799.8 M242.39,3834.6 L242.73,3837.49 L243.15,3840.97 L243.56,3844.43 L243.98,3847.86 L244.39,3851.27 L244.81,3854.66 L245.23,3858.01 L245.64,3861.34 L246.06,3864.64 L246.44,3867.7 M251.4,3904.2 L251.45,3904.56 L251.87,3907.38 L252.28,3910.17 L252.7,3912.93 L253.11,3915.65 L253.53,3918.33 L253.94,3920.98 L254.36,3923.59 L254.77,3926.17 L255.19,3928.71 L255.6,3931.22 L256.02,3933.69 L256.43,3936.12 L256.64,3937.3 M263.4,3972.1 L263.49,3972.52 L263.91,3974.38 L264.32,3976.22 L264.74,3978.03 L265.15,3979.81 L265.57,3981.56 L265.98,3983.29 L266.4,3984.99 L266.81,3986.67 L267.23,3988.32 L267.64,3989.95 L268.06,3991.55 L268.47,3993.12 L268.89,3994.67 L269.3,3996.2 L269.72,3997.71 L270.14,3999.19 L270.55,4000.65 L270.97,4002.09 L271.35,4003.4 M284.19,4038.2 L284.25,4038.33 L284.67,4039.21 L285.08,4040.08 L285.5,4040.93 L285.91,4041.77 L286.33,4042.61 L286.74,4043.43 L287.16,4044.23 L287.57,4045.03 L287.99,4045.82 L288.4,4046.59 L288.82,4047.36 L289.23,4048.11 L289.65,4048.86 L290.06,4049.59 L290.48,4050.31 L290.89,4051.03 L291.31,4051.73 L291.72,4052.42 L292.14,4053.11 L292.55,4053.78 L292.97,4054.45 L293.38,4055.11 L293.8,4055.76 L294.21,4056.4 L294.63,4057.03 L295.05,4057.65 L295.46,4058.27 L295.88,4058.87 L296.29,4059.47 L296.71,4060.06 L297.12,4060.65 L297.54,4061.22 L297.95,4061.79 L298.37,4062.35 L298.78,4062.91 L299.2,4063.45 L299.61,4063.99 L299.85,4064.3 M328.3,4089.17 L328.67,4089.39 L329.09,4089.63 L329.5,4089.86 L329.92,4090.09 L330.33,4090.33 L330.75,4090.55 L331.16,4090.78 L331.58,4091 L332,4091.23 L332.41,4091.45 L332.83,4091.66 L333.24,4091.88 L333.66,4092.09 L334.07,4092.3 L334.49,4092.51 L334.9,4092.72 L335.32,4092.92 L335.73,4093.13 L336.15,4093.33 L336.56,4093.53 L336.98,4093.72 L337.39,4093.92 L337.81,4094.11 L338.22,4094.3 L338.64,4094.49 L339.05,4094.68 L339.47,4094.86 L339.88,4095.05 L340.3,4095.23 L340.71,4095.41 L341.13,4095.59 L341.54,4095.77 L341.96,4095.94 L342.37,4096.12 L342.79,4096.29 L343.2,4096.46 L343.62,4096.63 L344.03,4096.8 L344.45,4096.96 L346.53,4097.77 L348.6,4098.54 L350.68,4099.28 L352.75,4099.98 L354.83,4100.66 L356.9,4101.3 L357.9,4101.6 M392.7,4109.18 L394.27,4109.43 L396.35,4109.74 L398.42,4110.04 L400.5,4110.33 L402.57,4110.62 L404.65,4110.89 L406.72,4111.15 L408.8,4111.41 L410.88,4111.66 L412.95,4111.9 L415.03,4112.13 L417.1,4112.35 L419.18,4112.57 L421.26,4112.78 L423.33,4112.99 L425.41,4113.19 L425.8,4113.23 M460.4,4115.83 L460.7,4115.85 L462.77,4115.97 L464.85,4116.09 L466.92,4116.2 L469,4116.32 L471.08,4116.43 L473.15,4116.53 L475.23,4116.64 L477.3,4116.74 L479.38,4116.84 L481.45,4116.94 L483.53,4117.03 L485.61,4117.13 L487.68,4117.22 L489.76,4117.31 L491.83,4117.4 L493.91,4117.48 L495.99,4117.56 L496.2,4117.57 M529.4,4118.68 L531.27,4118.73 L552.03,4119.26 L565.2,4119.53 M598.4,4120.13 L614.31,4120.36 L634.2,4120.61 M667.4,4120.96 L676.58,4121.05 L697.34,4121.22 L703.2,4121.26 M736.4,4121.48 L738.86,4121.5 L759.62,4121.62 L772.2,4121.68 M805.4,4121.83 L821.89,4121.9 L841.2,4121.97 M874.4,4122.08 L884.17,4122.1 L904.92,4122.16 L910.2,4122.17 M943.4,4122.25 L946.44,4122.26 L967.2,4122.3 L979.2,4122.33 M1012.4,4122.39 L1029.47,4122.41 L1048.2,4122.44 M1081.4,4122.49 L1091.75,4122.5 L1112.51,4122.53 L1117.2,4122.53 M1150.4,4122.57 L1154.03,4122.57 L1174.78,4122.59 L1186.2,4122.6 M1219.4,4122.63 L1237.06,4122.65 L1255.2,4122.66 M1288.4,4122.68 L1299.33,4122.69 L1320.09,4122.7 L1324.2,4122.71 M1357.4,4122.73 L1361.61,4122.73 L1382.37,4122.74 L1393.2,4122.75 M1426.4,4122.76 L1444.64,4122.77 L1462.2,4122.78" fill="none" stroke="#00ff00" stroke-width="5.8" stroke-linejoin="round"/>
</g>
<rect x="219.9" y="3169.2" width="1245.5" height="1006.8" fill="none" stroke="#000" stroke-width="3.3"/>
<line x1="219.9" y1="4176" x2="219.9" y2="4195.7" stroke="#000" stroke-width="3.3"/>
<line x1="219.9" y1="3150.2" x2="219.9" y2="3169.2" stroke="#000" stroke-width="3.3"/>
<line x1="323.69" y1="4176" x2="323.69" y2="4185.6" stroke="#000" stroke-width="3.3"/>
<line x1="323.69" y1="3160.7" x2="323.69" y2="3169.2" stroke="#000" stroke-width="3.3"/>
<line x1="427.48" y1="4176" x2="427.48" y2="4195.7" stroke="#000" stroke-width="3.3"/>
<line x1="427.48" y1="3150.2" x2="427.48" y2="3169.2" stroke="#000" stroke-width="3.3"/>
<line x1="531.27" y1="4176" x2="531.27" y2="4185.6" stroke="#000" stroke-width="3.3"/>
<line x1="531.27" y1="3160.7" x2="531.27" y2="3169.2" stroke="#000" stroke-width="3.3"/>
<line x1="635.07" y1="4176" x2="635.07" y2="4195.7" stroke="#000" stroke-width="3.3"/>
<line x1="635.07" y1="3150.2" x2="635.07" y2="3169.2" stroke="#000" stroke-width="3.3"/>
<line x1="738.86" y1="4176" x2="738.86" y2="4185.6" stroke="#000" stroke-width="3.3"/>
<line x1="738.86" y1="3160.7" x2="738.86" y2="3169.2" stroke="#000" stroke-width="3.3"/>
<line x1="842.65" y1="4176" x2="842.65" y2="4195.7" stroke="#000" stroke-width="3.3"/>
<line x1="842.65" y1="3150.2" x2="842.65" y2="3169.2" stroke="#000" stroke-width="3.3"/>
<line x1="946.44" y1="4176" x2="946.44" y2="4185.6" stroke="#000" stroke-width="3.3"/>
<line x1="946.44" y1="3160.7" x2="946.44" y2="3169.2" stroke="#000" stroke-width="3.3"/>
<line x1="1050.23" y1="4176" x2="1050.23" y2="4195.7" stroke="#000" stroke-width="3.3"/>
<line x1="1050.23" y1="3150.2" x2="1050.23" y2="3169.2" stroke="#000" stroke-width="3.3"/>
<line x1="1154.03" y1="4176" x2="1154.03" y2="4185.6" stroke="#000" stroke-width="3.3"/>
<line x1="1154.03" y1="3160.7" x2="1154.03" y2="3169.2" stroke="#000" stroke-width="3.3"/>
<line x1="1257.82" y1="4176" x2="1257.82" y2="4195.7" stroke="#000" stroke-width="3.3"/>
<line x1="1257.82" y1="3150.2" x2="1257.82" y2="3169.2" stroke="#000" stroke-width="3.3"/>
<line x1="1361.61" y1="4176" x2="1361.61" y2="4185.6" stroke="#000" stroke-width="3.3"/>
<line x1="1361.61" y1="3160.7" x2="1361.61" y2="3169.2" stroke="#000" stroke-width="3.3"/>
<line x1="1465.4" y1="4176" x2="1465.4" y2="4195.7" stroke="#000" stroke-width="3.3"/>
<line x1="1465.4" y1="3150.2" x2="1465.4" y2="3169.2" stroke="#000" stroke-width="3.3"/>
<line x1="210.9" y1="4176" x2="219.9" y2="4176" stroke="#000" stroke-width="3.3"/>
<line x1="1465.4" y1="4176" x2="1474.4" y2="4176" stroke="#000" stroke-width="3.3"/>
<line x1="200.9" y1="4084.47" x2="219.9" y2="4084.47" stroke="#000" stroke-width="3.3"/>
<line x1="1465.4" y1="4084.47" x2="1484.4" y2="4084.47" stroke="#000" stroke-width="3.3"/>
<line x1="210.9" y1="3992.95" x2="219.9" y2="3992.95" stroke="#000" stroke-width="3.3"/>
<line x1="1465.4" y1="3992.95" x2="1474.4" y2="3992.95" stroke="#000" stroke-width="3.3"/>
<line x1="200.9" y1="3901.42" x2="219.9" y2="3901.42" stroke="#000" stroke-width="3.3"/>
<line x1="1465.4" y1="3901.42" x2="1484.4" y2="3901.42" stroke="#000" stroke-width="3.3"/>
<line x1="210.9" y1="3809.89" x2="219.9" y2="3809.89" stroke="#000" stroke-width="3.3"/>
<line x1="1465.4" y1="3809.89" x2="1474.4" y2="3809.89" stroke="#000" stroke-width="3.3"/>
<line x1="200.9" y1="3718.36" x2="219.9" y2="3718.36" stroke="#000" stroke-width="3.3"/>
<line x1="1465.4" y1="3718.36" x2="1484.4" y2="3718.36" stroke="#000" stroke-width="3.3"/>
<line x1="210.9" y1="3626.84" x2="219.9" y2="3626.84" stroke="#000" stroke-width="3.3"/>
<line x1="1465.4" y1="3626.84" x2="1474.4" y2="3626.84" stroke="#000" stroke-width="3.3"/>
<line x1="200.9" y1="3535.31" x2="219.9" y2="3535.31" stroke="#000" stroke-width="3.3"/>
<line x1="1465.4" y1="3535.31" x2="1484.4" y2="3535.31" stroke="#000" stroke-width="3.3"/>
<line x1="210.9" y1="3443.78" x2="219.9" y2="3443.78" stroke="#000" stroke-width="3.3"/>
<line x1="1465.4" y1="3443.78" x2="1474.4" y2="3443.78" stroke="#000" stroke-width="3.3"/>
<line x1="200.9" y1="3352.25" x2="219.9" y2="3352.25" stroke="#000" stroke-width="3.3"/>
<line x1="1465.4" y1="3352.25" x2="1484.4" y2="3352.25" stroke="#000" stroke-width="3.3"/>
<line x1="210.9" y1="3260.73" x2="219.9" y2="3260.73" stroke="#000" stroke-width="3.3"/>
<line x1="1465.4" y1="3260.73" x2="1474.4" y2="3260.73" stroke="#000" stroke-width="3.3"/>
<line x1="200.9" y1="3169.2" x2="219.9" y2="3169.2" stroke="#000" stroke-width="3.3"/>
<line x1="1465.4" y1="3169.2" x2="1484.4" y2="3169.2" stroke="#000" stroke-width="3.3"/>
<text x="192.8" y="4099.47" font-size="62" font-weight="bold" text-anchor="end" font-family="'Liberation Serif','Times New Roman',serif">0.1</text>
<text x="192.8" y="3916.42" font-size="62" font-weight="bold" text-anchor="end" font-family="'Liberation Serif','Times New Roman',serif">0.2</text>
<text x="192.8" y="3733.36" font-size="62" font-weight="bold" text-anchor="end" font-family="'Liberation Serif','Times New Roman',serif">0.3</text>
<text x="192.8" y="3550.31" font-size="62" font-weight="bold" text-anchor="end" font-family="'Liberation Serif','Times New Roman',serif">0.4</text>
<text x="192.8" y="3367.25" font-size="62" font-weight="bold" text-anchor="end" font-family="'Liberation Serif','Times New Roman',serif">0.5</text>
<text x="192.8" y="3184.2" font-size="62" font-weight="bold" text-anchor="end" font-family="'Liberation Serif','Times New Roman',serif">0.6</text>
<text x="219.9" y="4254.6" font-size="62" font-weight="bold" text-anchor="middle" font-family="'Liberation Serif','Times New Roman',serif">0</text>
<text x="427.48" y="4254.6" font-size="62" font-weight="bold" text-anchor="middle" font-family="'Liberation Serif','Times New Roman',serif">10</text>
<text x="635.07" y="4254.6" font-size="62" font-weight="bold" text-anchor="middle" font-family="'Liberation Serif','Times New Roman',serif">20</text>
<text x="842.65" y="4254.6" font-size="62" font-weight="bold" text-anchor="middle" font-family="'Liberation Serif','Times New Roman',serif">30</text>
<text x="1050.23" y="4254.6" font-size="62" font-weight="bold" text-anchor="middle" font-family="'Liberation Serif','Times New Roman',serif">40</text>
<text x="1257.82" y="4254.6" font-size="62" font-weight="bold" text-anchor="middle" font-family="'Liberation Serif','Times New Roman',serif">50</text>
<text x="1465.4" y="4254.6" font-size="62" font-weight="bold" text-anchor="middle" font-family="'Liberation Serif','Times New Roman',serif">60</text>
<line x1="929" y1="3244.8" x2="1074.5" y2="3244.8" stroke="#000" stroke-width="6.8"/>
<line x1="929" y1="3323.5" x2="965.4" y2="3323.5" stroke="#00ff00" stroke-width="6.4"/>
<line x1="997.4" y1="3323.5" x2="1033.9" y2="3323.5" stroke="#00ff00" stroke-width="6.4"/>
<text x="1085.83" y="3266" font-size="62.5" font-weight="bold" text-anchor="start" font-family="'Liberation Serif','Times New Roman',serif">OPC</text>
<text x="1085.83" y="3344.2" font-size="62.5" font-weight="bold" text-anchor="start" font-family="'Liberation Serif','Times New Roman',serif" letter-spacing="-0.64">OPC-GO</text>
<text x="154.43" y="4368.8" font-size="66.8" font-weight="bold" text-anchor="start" font-family="'Liberation Serif','Times New Roman',serif">Distance from the Surface of the Aggregate</text>
<text transform="translate(1395.42,4368.8) scale(1.2,1)" font-size="54.5" font-family="'Liberation Serif',serif">(</text>
<text x="1418.8" y="4368.8" font-size="64" font-weight="bold" text-anchor="start" font-family="'Liberation Serif','Times New Roman',serif">μm</text>
<text transform="translate(1507.67,4368.8) scale(1.2,1)" font-size="54.5" font-family="'Liberation Serif',serif">)</text>
<text transform="translate(83.5,3789.37) rotate(-90)" font-size="67" font-weight="bold" font-family="'Liberation Serif',serif">Porosity</text>
<text transform="translate(728.86,4602.5) scale(0.92,1)" font-size="85.5" font-family="'Liberation Serif',serif">(</text>
<text x="756.29" y="4602.5" font-size="86" font-weight="bold" font-family="'Liberation Serif',serif">c</text>
<text transform="translate(793.34,4602.5) scale(0.92,1)" font-size="85.5" font-family="'Liberation Serif',serif">)</text>
</svg>
</body></html>
